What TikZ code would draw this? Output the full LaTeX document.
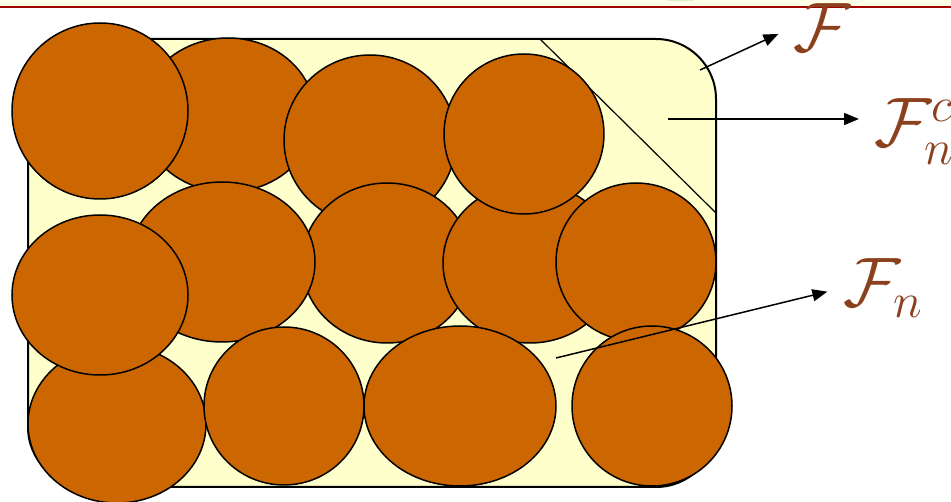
\RequirePackage{fix-cm}
\documentclass[tikz,border=0pt]{standalone}
\usepackage{amsmath}
\usepackage{tikz}
\usetikzlibrary{arrows.meta, positioning, calc}
\definecolor{myorange}{RGB}{204,102,0}
\definecolor{myyellow}{RGB}{255,255,204}
\definecolor{mystrip}{RGB}{255,255,232}
\definecolor{mygreen}{RGB}{222,238,204}
\definecolor{mydarkred}{RGB}{160,0,0}
\definecolor{mybrown}{RGB}{139,64,30}
\tikzset{
  grain/.style={draw=black, fill=myorange, line width=1.5pt},
  region/.style={draw=black, fill=myyellow, line width=2pt, rounded corners=60pt},
  setlabel/.style={text=mybrown, inner sep=2pt, font=\fontsize{70}{74}\selectfont},
  arrow/.style={-{Triangle[length=15pt,width=12pt]}, line width=1.5pt, color=black}
}

\begin{document}
\begin{tikzpicture}[x=1pt, y=-1pt]
  \useasboundingbox (0,0) rectangle (951,502);
  % strip at the top of the slide
  \fill[mystrip] (0,0) rectangle (951,6);
  \fill[mygreen] (667,0) rectangle (694,1.5);
  \draw[mydarkred, line width=2.5pt] (0,7) -- (951,7);

  % the whole set F and the cut-off corner
  \draw[region] (28,39) rectangle (716,487);
  \draw[line width=1.2pt] (540,39) -- (716,213);

  % grains
  \draw[grain] (228,115) ellipse (87pt and 77pt);
  \draw[grain] (370,140) ellipse (86pt and 85pt);
  \draw[grain] (387,263) ellipse (85pt and 80pt);
  \draw[grain] (530,263) ellipse (87pt and 80pt);
  \draw[grain] (524,134) ellipse (80pt and 80pt);
  \draw[grain] (636,262) ellipse (80pt and 79pt);
  \draw[grain] (222,262) ellipse (93pt and 80pt);
  \draw[grain] (100,111) ellipse (88pt and 88pt);
  \draw[grain] (117,424) ellipse (89pt and 79pt);
  \draw[grain] (100,295) ellipse (88pt and 80pt);
  \draw[grain] (284,406) ellipse (80pt and 79pt);
  \draw[grain] (460,406) ellipse (96pt and 80pt);
  \draw[grain] (652,406) ellipse (80pt and 80pt);

  % labels
  \node[setlabel, anchor=base] (lblF) at (822,52) {$\mathcal{F}$};
  \node[setlabel, anchor=base west] (lblFnc) at (872,147) {$\mathcal{F}_n^c$};
  \node[setlabel, anchor=base west] (lblFn) at (841,307) {$\mathcal{F}_n$};

  \coordinate (tailF) at (700,70);
  \coordinate (tailFnc) at (668,119);
  \coordinate (tailFn) at (556,358);

  \draw[arrow, shorten >=14pt] (tailF) -- (lblF.west);
  \draw[arrow, shorten >=13pt] (tailFnc) -- (tailFnc -| lblFnc.west);
  \draw[arrow, shorten >=14pt] (tailFn) -- (lblFn.west);
\end{tikzpicture}
\end{document}
